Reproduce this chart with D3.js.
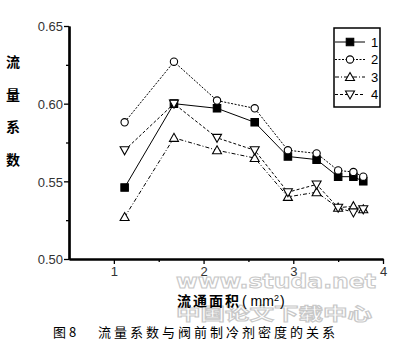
<!DOCTYPE html>
<html>
<head>
<meta charset="utf-8">
<script src="https://cdn.jsdelivr.net/npm/d3@7"></script>
<style>
  body { margin: 0; background: #fff; }
  text { font-family: "Liberation Sans", Arial, sans-serif; }
  .cjk { font-family: "Noto Sans CJK SC", sans-serif; }
</style>
</head>
<body>
<div id="container"></div>
<script>
// data
let areas = [1.12, 1.67, 2.15, 2.57, 2.94, 3.26, 3.50, 3.67, 3.78];
let s1 = [0.546, 0.600, 0.597, 0.588, 0.566, 0.564, 0.553, 0.553, 0.550];
let s2 = [0.588, 0.627, 0.602, 0.597, 0.570, 0.568, 0.557, 0.556, 0.553];
let s3 = [0.527, 0.578, 0.570, 0.565, 0.540, 0.543, 0.533, 0.534, 0.532];
let s4 = [0.570, 0.600, 0.578, 0.570, 0.543, 0.548, 0.533, 0.530, 0.532];
let seriesNames = ["1", "2", "3", "4"];
let yTicks = [0.50, 0.55, 0.60, 0.65];
let xTicks = [1, 2, 3, 4];

let w = 399;
let h = 349;
let viz = d3.select("#container")
  .append("svg")
    .attr("width", w)
    .attr("height", h)
;

let x = d3.scaleLinear().domain([0.5, 4]).range([69, 383]);
let y = d3.scaleLinear().domain([0.50, 0.65]).range([259, 26]);

// series styles
let series = [
  { name: seriesNames[0], values: s1, dash: null, sym: d3.symbolSquare, fill: "black" },
  { name: seriesNames[1], values: s2, dash: "2,1.5", sym: d3.symbolCircle, fill: "white" },
  { name: seriesNames[2], values: s3, dash: "4,2,1,2", sym: "up", fill: "white" },
  { name: seriesNames[3], values: s4, dash: "3,2", sym: "down", fill: "white" }
];

function markerPath(sym) {
  if (sym === "up") return "M0,-4.5L4.5,3.5L-4.5,3.5Z";
  if (sym === "down") return "M0,4.5L4.5,-3.5L-4.5,-3.5Z";
  if (sym === d3.symbolSquare) return d3.symbol().type(sym).size(56)();
  return d3.symbol().type(sym).size(42)();
}

// watermark
viz.append("text")
  .attr("x", 176).attr("y", 288)
  .attr("textLength", 200).attr("lengthAdjust", "spacingAndGlyphs")
  .style("font-family", "DejaVu Sans")
  .style("font-weight", "bold")
  .style("font-size", "19px")
  .attr("fill", "white").attr("stroke", "#c8c8c8").attr("stroke-width", 1)
  .text("www.studa.net");
viz.append("text")
  .attr("class", "cjk")
  .attr("x", 176).attr("y", 320)
  .attr("textLength", 196).attr("lengthAdjust", "spacingAndGlyphs")
  .style("font-weight", "bold")
  .style("font-size", "17px")
  .attr("fill", "white").attr("stroke", "#c8c8c8").attr("stroke-width", 1)
  .text("中国论文下载中心");

// axes
let yAxis = d3.axisLeft(y).tickValues(yTicks).tickFormat(d3.format(".2f")).tickSize(5).tickSizeOuter(0);
let yMinor = d3.axisLeft(y).tickValues([0.525, 0.575, 0.625]).tickFormat("").tickSize(3).tickSizeOuter(0);
let xAxis = d3.axisBottom(x).tickValues(xTicks).tickFormat(d3.format("d")).tickSize(5).tickSizeOuter(0);
let xMinor = d3.axisBottom(x).tickValues([1.5, 2.5, 3.5]).tickFormat("").tickSize(3).tickSizeOuter(0);

let gy = viz.append("g").attr("transform", "translate(69,0)").call(yAxis);
viz.append("g").attr("transform", "translate(69,0)").call(yMinor);
let gx = viz.append("g").attr("transform", "translate(0,259)").call(xAxis);
viz.append("g").attr("transform", "translate(0,259)").call(xMinor);

viz.selectAll(".domain").attr("stroke", "black").attr("stroke-width", 2.2);
viz.selectAll(".tick line").attr("stroke", "black").attr("stroke-width", 1.3);
gy.selectAll("text").style("font-size", "13px").attr("fill", "#333").attr("x", -6).attr("dy", "0.36em");
gx.selectAll("text").style("font-size", "13px").attr("fill", "#333").attr("y", 8);

// y title, stacked characters
let yTitle = ["流", "量", "系", "数"];
viz.selectAll(".ytitle").data(yTitle).enter()
  .append("text")
    .attr("class", "cjk")
    .attr("x", 13)
    .attr("y", function(d, i) { return 67 + i * 32.5; })
    .attr("text-anchor", "middle")
    .style("font-size", "14px")
    .style("font-weight", "bold")
    .text(function(d) { return d; });

// x title
viz.append("text")
  .attr("class", "cjk")
  .attr("x", 177).attr("y", 306)
  .attr("textLength", 62).attr("lengthAdjust", "spacing")
  .style("font-size", "14px").style("font-weight", "bold")
  .text("流通面积");
let xt = viz.append("text")
  .attr("x", 242).attr("y", 306)
  .style("font-size", "14px");
xt.append("tspan").text("(\u00a0mm");
xt.append("tspan").attr("dy", -5).style("font-size", "9px").text("2");
xt.append("tspan").attr("dy", 5).attr("dx", 1).text(")");

// caption
viz.append("text")
  .attr("class", "cjk")
  .attr("x", 53).attr("y", 337)
  .style("font-size", "13px")
  .text("图 8");
viz.append("text")
  .attr("class", "cjk")
  .attr("x", 98).attr("y", 337)
  .attr("textLength", 237).attr("lengthAdjust", "spacing")
  .style("font-size", "13px")
  .text("流量系数与阀前制冷剂密度的关系");

// lines and markers
let lineMaker = d3.line()
  .x(function(d, i) { return x(areas[i]); })
  .y(function(d) { return y(d); })
;

series.forEach(function(s) {
  viz.append("path")
    .datum(s.values)
    .attr("d", lineMaker)
    .attr("fill", "none")
    .attr("stroke", "black")
    .attr("stroke-width", 1)
    .attr("stroke-dasharray", s.dash)
  ;
});

series.forEach(function(s) {
  viz.selectAll(null).data(s.values).enter()
    .append("path")
      .attr("d", markerPath(s.sym))
      .attr("transform", function(d, i) { return "translate(" + x(areas[i]) + "," + y(d) + ")"; })
      .attr("fill", s.fill)
      .attr("stroke", "black")
      .attr("stroke-width", 1.1)
  ;
});

// legend
let legend = viz.append("g");
legend.append("rect")
  .attr("x", 334).attr("y", 28).attr("width", 46).attr("height", 79)
  .attr("fill", "white").attr("stroke", "black").attr("stroke-width", 1.5);

series.forEach(function(s, i) {
  let ly = 42 + i * 17.5;
  legend.append("line")
    .attr("x1", 335).attr("x2", 365).attr("y1", ly).attr("y2", ly)
    .attr("stroke", "black").attr("stroke-width", 1)
    .attr("stroke-dasharray", s.dash);
  legend.append("path")
    .attr("d", markerPath(s.sym))
    .attr("transform", "translate(350," + ly + ")")
    .attr("fill", s.fill).attr("stroke", "black").attr("stroke-width", 1.1);
  legend.append("text")
    .attr("x", 371).attr("y", ly).attr("dy", "0.36em")
    .style("font-size", "13px")
    .text(s.name);
});
</script>
</body>
</html>
